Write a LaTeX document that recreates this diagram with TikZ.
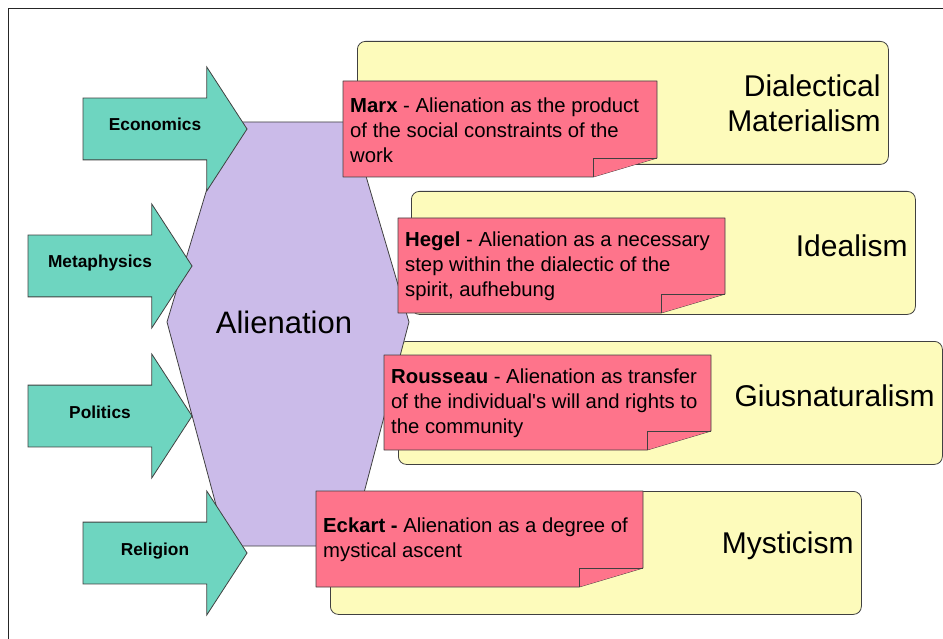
\documentclass[tikz,border=0pt]{standalone}
\usepackage{fontspec}
\setmainfont{Liberation Sans}
\usepackage{tikz}
\usetikzlibrary{positioning}
\usetikzlibrary{shapes}
\usepackage{xcolor}

\definecolor{arrowgreen}{RGB}{110,213,192}
\definecolor{hexviolet}{RGB}{203,187,233}
\definecolor{boxyellow}{RGB}{253,251,187}
\definecolor{notepink}{RGB}{254,116,139}

\begin{document}
\begin{tikzpicture}
[x=1pt, y=-1pt,
% The area style is used to draw the yellow boxes of each school
area/.style={rectangle, rounded corners=8pt, draw=black!75, line width=0.8pt, fill=boxyellow, anchor=north west, minimum height=123pt},
areaname/.style={inner sep=0pt, align=right, font=\fontsize{30}{35}\selectfont},
% The note style is used to draw the pink notes with the folded corner
note/.style={draw=black!75, line width=0.8pt, fill=notepink, line join=round},
notetext/.style={anchor=west, inner sep=0pt, align=left, font=\fontsize{20.3}{25}\selectfont},
% The source style is used to draw the fields leading to alienation
source/.style={single arrow, draw=black!75, line width=0.8pt, fill=arrowgreen, minimum height=164pt, minimum width=123pt, single arrow head extend=31pt, single arrow tip angle=114, text width=104pt, align=center, text height=10pt, text depth=6pt, inner xsep=1pt, inner ysep=22.5pt, font=\fontsize{17.3}{20}\selectfont\bfseries}
]
\useasboundingbox (0,0) rectangle (943,639);
\draw[line width=1pt, black!85] (8,639) -- (8,9) -- (943,9);

% Draw schools
\node [area, minimum width=531pt] (dialmat) at (357,41) {};
\node [area, minimum width=504pt] (ideal) at (411,191) {};
\node [area, minimum width=544pt] (giusnat) at (398,341) {};
\node [area, minimum width=531pt] (mystic) at (330,491) {};
\node [areaname, left=8pt of dialmat.east] (dialmatname) {Dialectical\\Materialism};
\node [areaname, left=8pt of ideal.east, yshift=7pt] (idealname) {Idealism};
\node [areaname, left=8pt of giusnat.east, yshift=7pt] (giusnatname) {Giusnaturalism};
\node [areaname, left=8pt of mystic.east, yshift=7pt] (mysticname) {Mysticism};

% Draw alienation
\draw[draw=black!75, line width=0.8pt, fill=hexviolet] (227,122) -- (350,122) -- (409,322) -- (350,546) -- (227,546) -- (167,322) -- cycle;
\node [font=\fontsize{31}{36}\selectfont] (alien) at (284,322) {Alienation};

% Draw fields
\node [source] (econ) at (155,129) {Economics};
\node [source] (meta) at (100,266) {Metaphysics};
\node [source] (polit) at (100,416) {Politics};
\node [source] (relig) at (155,553) {Religion};

% Draw notes
\draw[note] (343,81) -- (657,81) -- (657,158) -- (593,177) -- (343,177) -- cycle;
\draw[note] (593,177) -- (593,158) -- (657,158);
\node [notetext] (marx) at (350,130) {\textbf{Marx} - Alienation as the product\\of the social constraints of the\\work};

\draw[note] (398,218) -- (725,218) -- (725,294) -- (661,313) -- (398,313) -- cycle;
\draw[note] (661,313) -- (661,294) -- (725,294);
\node [notetext] (hegel) at (405,266.5) {\textbf{Hegel} - Alienation as a necessary\\step within the dialectic of the\\spirit, aufhebung};

\draw[note] (384,355) -- (711,355) -- (711,431) -- (647,450) -- (384,450) -- cycle;
\draw[note] (647,450) -- (647,431) -- (711,431);
\node [notetext] (rousseau) at (391,403.5) {\textbf{Rousseau} - Alienation as transfer\\of the individual\textquotesingle s will and rights to\\the community};

\draw[note] (316,491) -- (643,491) -- (643,568) -- (579,587) -- (316,587) -- cycle;
\draw[note] (579,587) -- (579,568) -- (643,568);
\node [notetext] (eckart) at (323,540) {\textbf{Eckart -} Alienation as a degree of\\mystical ascent};
\end{tikzpicture}
\end{document}
